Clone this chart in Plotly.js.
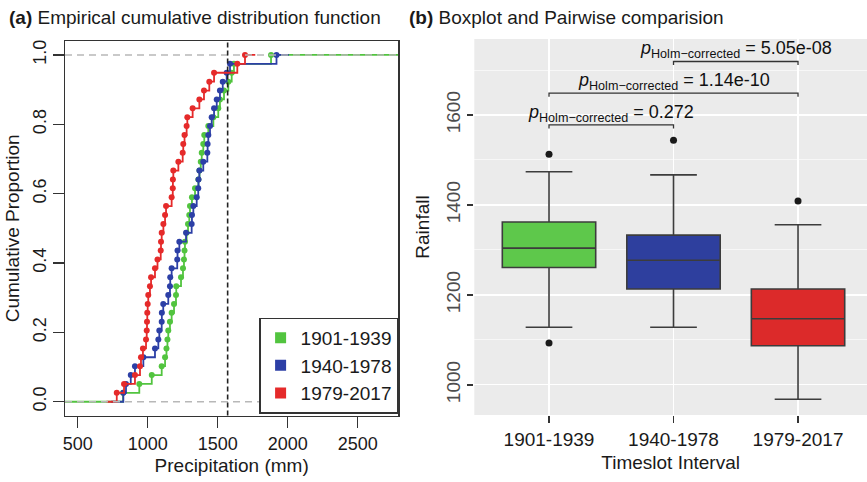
<!DOCTYPE html>
<html>
<head>
<meta charset="utf-8">
<script src="https://cdn.plot.ly/plotly-3.0.1.min.js"></script>
<style>
  html, body { margin: 0; padding: 0; background: #ffffff; }
  #chart { width: 867px; height: 482px; }
</style>
</head>
<body>
<div id="chart"></div>
<script>
// ---- Panel (a): annual precipitation samples per period (mm), sorted ----
const periods = ['1901-1939', '1940-1978', '1979-2017'];

const precip1901 = [824, 940, 1029, 1100, 1124, 1134, 1141, 1147, 1159, 1171,
  1188, 1202, 1204, 1238, 1252, 1259, 1263, 1266, 1278, 1288,
  1297, 1302, 1316, 1338, 1362, 1370, 1379, 1386, 1397, 1404,
  1433, 1469, 1504, 1516, 1545, 1576, 1600, 1616, 1881];

const precip1940 = [826, 845, 879, 909, 969, 1052, 1076, 1083, 1100, 1101,
  1111, 1147, 1159, 1161, 1171, 1211, 1213, 1226, 1274, 1314,
  1316, 1326, 1350, 1361, 1363, 1369, 1397, 1426, 1428, 1433,
  1445, 1457, 1474, 1493, 1516, 1536, 1564, 1588, 1920];

const precip1979 = [779, 831, 909, 945, 952, 966, 988, 993, 995, 997,
  1000, 1004, 1016, 1024, 1052, 1070, 1093, 1095, 1100, 1112,
  1124, 1131, 1171, 1179, 1180, 1183, 1219, 1250, 1254, 1263,
  1278, 1283, 1321, 1369, 1402, 1440, 1474, 1640, 1695];

// reference precipitation level (dashed vertical line)
const referencePrecip = 1571;

// ---- Panel (b): rainfall box statistics per period ----
const boxQ1     = [1261, 1213, 1087];
const boxMedian = [1304, 1277, 1147];
const boxQ3     = [1362, 1333, 1213];
const boxLower  = [1128, 1128, 968];
const boxUpper  = [1474, 1467, 1356];

const outlierPeriod   = ['1901-1939', '1901-1939', '1940-1978', '1979-2017'];
const outlierRainfall = [1513, 1093, 1544, 1409];

// pairwise comparisons (indices into periods) and Holm-corrected p-values
const pairFrom = [0, 0, 1];
const pairTo   = [1, 2, 2];
const pairP    = ['0.272', '1.14e-10', '5.05e-08'];

// ---- styling ----
const ecdfColors = ['#52c43f', '#2c3fa6', '#e52a2a'];
const boxColors  = ['#5ec84b', '#2e3f9e', '#dc2a2a'];
const FONT = 'Liberation Sans, Arial, Helvetica, sans-serif';
const W = 867, H = 482;
const px = v => v / W;
const py = v => 1 - v / H;

const xRangeA = [409.3, 2790];
const series = [precip1901, precip1940, precip1979];

const traces = [];

// step functions (ECDF) with points at each observation
series.forEach((vals, s) => {
  const n = vals.length;
  const lo = vals[0], hi = vals[n - 1];
  const ext = 0.08 * (hi - lo);
  const x0 = s === 0 ? xRangeA[0] : lo - ext;
  const x1 = s === 0 ? xRangeA[1] : hi + ext;
  const ys = vals.map((v, i) => (i + 1) / n);
  traces.push({
    type: 'scatter', mode: 'lines', xaxis: 'x', yaxis: 'y',
    x: [x0].concat(vals, [x1]), y: [0].concat(ys, [1]),
    line: { shape: 'hv', color: ecdfColors[s], width: 1.8 },
    showlegend: false, hoverinfo: 'skip'
  });
  traces.push({
    type: 'scatter', mode: 'markers', xaxis: 'x', yaxis: 'y',
    x: vals, y: ys,
    marker: { color: ecdfColors[s], size: 6 },
    showlegend: false, name: periods[s]
  });
});

// legend entries (filled squares)
periods.forEach((p, s) => {
  traces.push({
    type: 'scatter', mode: 'markers', xaxis: 'x', yaxis: 'y',
    x: [null], y: [null], name: p,
    marker: { symbol: 'square', size: 11, color: ecdfColors[s] },
    showlegend: true
  });
});

// boxes
periods.forEach((p, i) => {
  traces.push({
    type: 'box', xaxis: 'x2', yaxis: 'y2',
    x: [p], q1: [boxQ1[i]], median: [boxMedian[i]], q3: [boxQ3[i]],
    lowerfence: [boxLower[i]], upperfence: [boxUpper[i]],
    width: 0.75, fillcolor: boxColors[i],
    line: { color: '#3c3c3c', width: 1.6 },
    boxpoints: false, showlegend: false, name: p
  });
});

// outliers
traces.push({
  type: 'scatter', mode: 'markers', xaxis: 'x2', yaxis: 'y2',
  x: outlierPeriod, y: outlierRainfall,
  marker: { color: '#1a1a1a', size: 7 }, showlegend: false
});

// shapes
const shapes = [
  // grey panel for (b)
  { type: 'rect', xref: 'x2 domain', yref: 'y2 domain', x0: 0, x1: 1, y0: 0, y1: 1,
    fillcolor: '#ebebeb', line: { width: 0 }, layer: 'below' },
  // 0 and 1 reference lines
  { type: 'line', xref: 'x domain', yref: 'y', x0: 0, x1: 1, y0: 0, y1: 0,
    line: { color: '#b8b8b8', width: 1.6, dash: '7px,5px' } },
  { type: 'line', xref: 'x domain', yref: 'y', x0: 0, x1: 1, y0: 1, y1: 1,
    line: { color: '#b8b8b8', width: 1.6, dash: '7px,5px' } },
  // reference precipitation
  { type: 'line', xref: 'x', yref: 'y domain', x0: referencePrecip, x1: referencePrecip, y0: 0, y1: 1,
    line: { color: '#222222', width: 1.6, dash: '5px,3px' } }
];

const annotations = [
  { xref: 'paper', yref: 'paper', x: px(7), y: py(18), xanchor: 'left', yanchor: 'middle',
    text: '<b>(a)</b> Empirical cumulative distribution function', showarrow: false,
    font: { size: 19, color: '#1a1a1a' } },
  { xref: 'paper', yref: 'paper', x: px(407), y: py(18), xanchor: 'left', yanchor: 'middle',
    text: '<b>(b)</b> Boxplot and Pairwise comparision', showarrow: false,
    font: { size: 19, color: '#1a1a1a' } }
];

// comparison brackets
const bracketBase = 1578, bracketStep = 70.5, tip = 8;
pairFrom.forEach((a, k) => {
  const b = pairTo[k];
  const yb = bracketBase + k * bracketStep;
  shapes.push({
    type: 'path', xref: 'x2', yref: 'y2',
    path: `M ${a} ${yb - tip} L ${a} ${yb} L ${b} ${yb} L ${b} ${yb - tip}`,
    line: { color: '#333333', width: 1.3 }
  });
  annotations.push({
    xref: 'x2', yref: 'y2', x: (a + b) / 2, y: yb, xanchor: 'center', yanchor: 'bottom',
    yshift: -2, showarrow: false,
    text: `<i>p</i><sub>Holm\u2212corrected</sub> = ${pairP[k]}`,
    font: { size: 18, color: '#111111' }
  });
});

const layout = {
  width: W, height: H,
  margin: { l: 0, r: 0, t: 0, b: 0 },
  paper_bgcolor: '#ffffff', plot_bgcolor: 'rgba(0,0,0,0)',
  font: { family: FONT, color: '#1a1a1a' },
  showlegend: true,
  legend: {
    x: px(398.3), xanchor: 'right', y: py(413.5), yanchor: 'bottom',
    bgcolor: '#ffffff', bordercolor: '#333333', borderwidth: 1.3,
    font: { size: 19, color: '#1a1a1a' }, itemclick: false, itemdoubleclick: false
  },
  xaxis: {
    domain: [px(65), px(398.3)], range: xRangeA, anchor: 'y',
    tickvals: [500, 1000, 1500, 2000, 2500],
    ticks: 'outside', ticklen: 11, tickwidth: 1.2, tickcolor: '#333333',
    showline: true, mirror: true, linecolor: '#333333', linewidth: 1.3,
    showgrid: false, zeroline: false, tickfont: { size: 18 },
    title: { text: 'Precipitation (mm)', font: { size: 19 }, standoff: 6 }
  },
  yaxis: {
    domain: [py(415.6), py(41.1)], range: [-0.04, 1.04], anchor: 'x',
    tickvals: [0, 0.2, 0.4, 0.6, 0.8, 1.0],
    ticktext: ['0.0', '0.2', '0.4', '0.6', '0.8', '1.0'],
    tickangle: -90,
    ticks: 'outside', ticklen: 11, tickwidth: 1.2, tickcolor: '#333333',
    showline: true, mirror: true, linecolor: '#333333', linewidth: 1.3,
    showgrid: false, zeroline: false, tickfont: { size: 18 },
    title: { text: 'Cumulative Proportion', font: { size: 19 }, standoff: 4 }
  },
  xaxis2: {
    domain: [px(474.3), 1], range: [-0.6, 2.554], anchor: 'y2',
    type: 'category', categoryorder: 'array', categoryarray: periods,
    ticks: 'outside', ticklen: 7, tickwidth: 1.3, tickcolor: '#333333',
    showline: false, showgrid: true, gridcolor: '#ffffff', gridwidth: 1.2,
    zeroline: false, tickfont: { size: 19, color: '#1a1a1a' },
    title: { text: 'Timeslot Interval', font: { size: 19 }, standoff: 6 }
  },
  yaxis2: {
    domain: [py(415), py(39)], range: [933, 1769], anchor: 'x2',
    tickvals: [1000, 1200, 1400, 1600], tickangle: -90,
    ticks: 'outside', ticklen: 6, tickwidth: 1.3, tickcolor: '#333333',
    showline: false, showgrid: true, gridcolor: '#ffffff', gridwidth: 1.2,
    minor: { tickvals: [1100, 1300, 1500, 1700], showgrid: true, gridcolor: '#ffffff', gridwidth: 0.6, ticks: '' },
    zeroline: false, tickfont: { size: 19, color: '#4d4d4d' },
    title: { text: 'Rainfall', font: { size: 19 }, standoff: 8 }
  },
  boxmode: 'overlay',
  shapes: shapes,
  annotations: annotations
};

Plotly.newPlot('chart', traces, layout, { staticPlot: true, displayModeBar: false });
</script>
</body>
</html>
